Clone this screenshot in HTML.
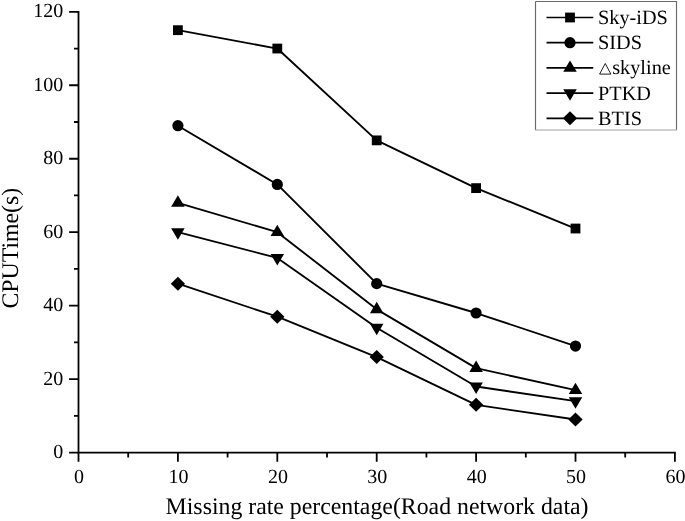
<!DOCTYPE html>
<html><head><meta charset="utf-8"><style>
html,body{margin:0;padding:0;background:#fff;width:685px;height:521px;overflow:hidden}
svg{display:block;will-change:transform}
text{font-family:"Liberation Serif", serif;text-rendering:geometricPrecision}
</style></head><body>
<svg width="685" height="521" viewBox="0 0 685 521"><g stroke="#000" stroke-width="1.8" fill="none" stroke-linecap="square"><path d="M78.5 11.80 V452.6 H674.90"/></g><path d="M69.10 452.60 H78.5 M74.00 415.87 H78.5 M69.10 379.13 H78.5 M74.00 342.40 H78.5 M69.10 305.67 H78.5 M74.00 268.94 H78.5 M69.10 232.20 H78.5 M74.00 195.47 H78.5 M69.10 158.74 H78.5 M74.00 122.00 H78.5 M69.10 85.27 H78.5 M74.00 48.54 H78.5 M69.10 11.80 H78.5 M78.50 452.6 V461.80 M128.20 452.6 V457.50 M177.90 452.6 V461.80 M227.60 452.6 V457.50 M277.30 452.6 V461.80 M327.00 452.6 V457.50 M376.70 452.6 V461.80 M426.40 452.6 V457.50 M476.10 452.6 V461.80 M525.80 452.6 V457.50 M575.50 452.6 V461.80 M625.20 452.6 V457.50 M674.90 452.6 V461.80" stroke="#000" stroke-width="1.8" fill="none"/><g font-family="Liberation Serif" font-size="20" fill="#000"><text x="63.3" y="458.10" text-anchor="end">0</text><text x="63.3" y="384.63" text-anchor="end">20</text><text x="63.3" y="311.17" text-anchor="end">40</text><text x="63.3" y="237.70" text-anchor="end">60</text><text x="63.3" y="164.24" text-anchor="end">80</text><text x="63.3" y="90.77" text-anchor="end">100</text><text x="63.3" y="17.30" text-anchor="end">120</text><text x="79.10" y="482.8" text-anchor="middle">0</text><text x="178.50" y="482.8" text-anchor="middle">10</text><text x="277.90" y="482.8" text-anchor="middle">20</text><text x="377.30" y="482.8" text-anchor="middle">30</text><text x="476.70" y="482.8" text-anchor="middle">40</text><text x="576.10" y="482.8" text-anchor="middle">50</text><text x="675.50" y="482.8" text-anchor="middle">60</text></g><text x="165.6" y="514.2" font-family="Liberation Serif" font-size="23.8">Missing rate percentage(Road network data)</text><text transform="translate(17.7,308.6) rotate(-90)" font-family="Liberation Serif" font-size="23.8">CPUTime(s)</text><polyline points="177.90,30.17 277.30,48.54 376.70,140.37 476.10,188.12 575.50,228.53" fill="none" stroke="#000" stroke-width="1.85" stroke-linejoin="round"/><g fill="#000"><rect x="173.00" y="25.27" width="9.80" height="9.80"/><rect x="272.40" y="43.64" width="9.80" height="9.80"/><rect x="371.80" y="135.47" width="9.80" height="9.80"/><rect x="471.20" y="183.22" width="9.80" height="9.80"/><rect x="570.60" y="223.63" width="9.80" height="9.80"/></g><polyline points="177.90,125.68 277.30,184.45 376.70,283.63 476.10,313.01 575.50,346.07" fill="none" stroke="#000" stroke-width="1.85" stroke-linejoin="round"/><g fill="#000"><circle cx="177.90" cy="125.68" r="5.6"/><circle cx="277.30" cy="184.45" r="5.6"/><circle cx="376.70" cy="283.63" r="5.6"/><circle cx="476.10" cy="313.01" r="5.6"/><circle cx="575.50" cy="346.07" r="5.6"/></g><polyline points="177.90,202.82 277.30,232.20 376.70,309.34 476.10,368.11 575.50,390.15" fill="none" stroke="#000" stroke-width="1.85" stroke-linejoin="round"/><g fill="#000"><polygon points="177.90,195.32 184.65,206.67 171.15,206.67"/><polygon points="277.30,224.70 284.05,236.05 270.55,236.05"/><polygon points="376.70,301.84 383.45,313.19 369.95,313.19"/><polygon points="476.10,360.61 482.85,371.96 469.35,371.96"/><polygon points="575.50,382.65 582.25,394.00 568.75,394.00"/></g><polyline points="177.90,232.20 277.30,257.92 376.70,327.71 476.10,386.48 575.50,401.17" fill="none" stroke="#000" stroke-width="1.85" stroke-linejoin="round"/><g fill="#000"><polygon points="177.90,239.80 184.65,228.30 171.15,228.30"/><polygon points="277.30,265.52 284.05,254.02 270.55,254.02"/><polygon points="376.70,335.31 383.45,323.81 369.95,323.81"/><polygon points="476.10,394.08 482.85,382.58 469.35,382.58"/><polygon points="575.50,408.77 582.25,397.27 568.75,397.27"/></g><polyline points="177.90,283.63 277.30,316.69 376.70,357.09 476.10,404.85 575.50,419.54" fill="none" stroke="#000" stroke-width="1.85" stroke-linejoin="round"/><g fill="#000"><polygon points="177.90,276.63 185.05,283.63 177.90,290.63 170.75,283.63"/><polygon points="277.30,309.69 284.45,316.69 277.30,323.69 270.15,316.69"/><polygon points="376.70,350.09 383.85,357.09 376.70,364.09 369.55,357.09"/><polygon points="476.10,397.85 483.25,404.85 476.10,411.85 468.95,404.85"/><polygon points="575.50,412.54 582.65,419.54 575.50,426.54 568.35,419.54"/></g><rect x="535.5" y="1.5" width="141" height="128.3" fill="#fff" stroke="none"/><path d="M535.5 1.5 H676.5 V130 M535.5 1.5 V130" stroke="#6a6a6a" stroke-width="1.15" fill="none"/><path d="M535 130 H677" stroke="#a2a2a2" stroke-width="1.2" fill="none"/><path d="M546.5 17.50 H593.3" stroke="#000" stroke-width="1.7"/><g fill="#000"><rect x="565.10" y="12.60" width="9.80" height="9.80"/></g><text x="598" y="24.00" font-family="Liberation Serif" font-size="20.3">Sky-iDS</text><path d="M546.5 42.70 H593.3" stroke="#000" stroke-width="1.7"/><g fill="#000"><circle cx="570.00" cy="42.70" r="5.6"/></g><text x="598" y="49.20" font-family="Liberation Serif" font-size="20.3">SIDS</text><path d="M546.5 67.90 H593.3" stroke="#000" stroke-width="1.7"/><g fill="#000"><polygon points="570.00,60.40 576.75,71.75 563.25,71.75"/></g><polygon points="599.6,74.10 610.9,74.10 605.25,63.50" fill="none" stroke="#111" stroke-width="0.95" stroke-linejoin="miter"/><text x="612.2" y="74.40" font-family="Liberation Serif" font-size="20.3">skyline</text><path d="M546.5 93.10 H593.3" stroke="#000" stroke-width="1.7"/><g fill="#000"><polygon points="570.00,100.70 576.75,89.20 563.25,89.20"/></g><text x="598" y="99.60" font-family="Liberation Serif" font-size="20.3">PTKD</text><path d="M546.5 118.30 H593.3" stroke="#000" stroke-width="1.7"/><g fill="#000"><polygon points="570.00,111.30 577.15,118.30 570.00,125.30 562.85,118.30"/></g><text x="598" y="124.80" font-family="Liberation Serif" font-size="20.3">BTIS</text></svg>
</body></html>
